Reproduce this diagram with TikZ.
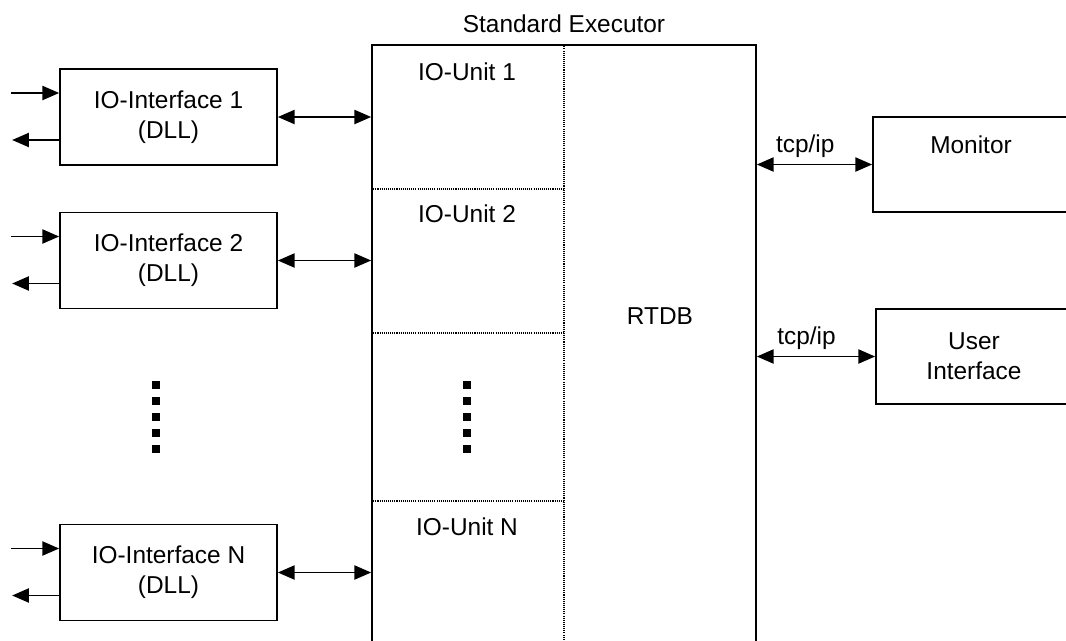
\documentclass[tikz,border=0pt]{standalone}
\usepackage{fontspec}
\setmainfont{Liberation Sans}
\usepackage{tikz}
\usetikzlibrary{positioning,calc,arrows.meta}

\tikzset{
  iface/.style={draw, line width=1pt, minimum width=4.34cm, minimum height=1.92cm, align=center, inner sep=0pt},
  sidebox/.style={draw, line width=1pt, minimum width=3.92cm, minimum height=1.9cm, align=center, inner sep=0pt},
  sep/.style={line width=0.6pt, dash pattern=on 0.6pt off 0.6pt},
  sarr/.style={line width=1pt, -{Triangle[length=9.5pt,width=8pt]}},
  dbl/.style={line width=1pt, {Triangle[length=9.5pt,width=8pt]}-{Triangle[length=9.5pt,width=8pt]}}
}

\begin{document}
\begin{tikzpicture}[x=0.02cm, y=-0.02cm, font=\fontsize{13.9}{17}\selectfont]
    \clip (0,0) rectangle (1066,640);

    % executor with its units and the database
    \node[draw, line width=1pt, minimum width=7.68cm, minimum height=13.1cm, inner sep=0pt,
          label={[label distance=3pt]above:Standard Executor}] (exec) at (564,372.5) {};
    \draw[sep] (exec.north) -- (exec.south);
    \foreach \y in {189,333,501}
        \draw[sep] (exec.north west |- 0,\y) -- (exec.north |- 0,\y);
    \node (unit1) at (467,72) {IO-Unit 1};
    \node (unit2) at (467,214) {IO-Unit 2};
    \node (unitn) at (467,527) {IO-Unit N};
    \node (rtdb) at (660,316) {RTDB};

    % IO interfaces
    \node[iface] (if1) at (168.5,117) {IO-Interface 1\\(DLL)};
    \node[iface] (if2) at (168.5,260.5) {IO-Interface 2\\(DLL)};
    \node[iface] (ifn) at (168.5,572.5) {IO-Interface N\\(DLL)};

    \foreach \i in {if1,if2,ifn} {
        \draw[dbl] (\i.east) -- (\i.east -| exec.west);
        \draw[sarr] ([shift={(-0.96cm,0.48cm)}]\i.west) -- ([yshift=0.48cm]\i.west);
        \draw[sarr] ([yshift=-0.46cm]\i.west) -- ++(-0.94cm,0);
    }

    % dots
    \foreach \y in {385,401,417,433,449} {
        \fill (152,\y-4) rectangle (160,\y+4);
        \fill (463,\y-4) rectangle (471,\y+4);
    }

    % monitor and user interface
    \node[sidebox, text height=0.36cm, text depth=0.82cm] (mon) at (971,164.5) {Monitor};
    \node[sidebox] (ui) at (974,356.5) {User\\Interface};
    \draw[dbl] (mon.west -| exec.east) -- (mon.west) node[above, pos=0.42] {tcp/ip};
    \draw[dbl] (ui.west -| exec.east) -- (ui.west) node[above, pos=0.42] {tcp/ip};
\end{tikzpicture}
\end{document}
